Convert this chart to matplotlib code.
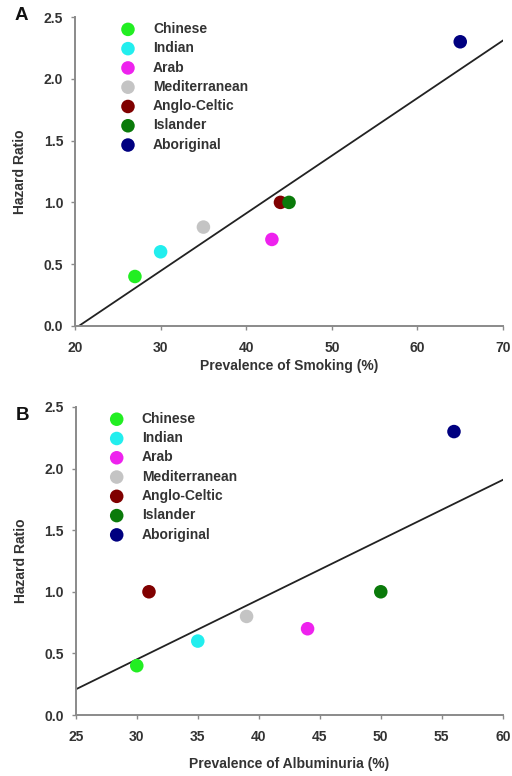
import matplotlib
matplotlib.use("Agg")
import matplotlib.pyplot as plt
import numpy as np

plt.rcParams['font.family'] = ['Liberation Sans', 'DejaVu Sans']
plt.rcParams['font.weight'] = 'bold'

groups = ["Chinese", "Indian", "Arab", "Mediterranean", "Anglo-Celtic", "Islander", "Aboriginal"]
colors = ["#22ee22", "#22eeee", "#ee22ee", "#c4c4c4", "#800000", "#0a7a0a", "#000080"]
hazard_ratio = [0.4, 0.6, 0.7, 0.8, 1.0, 1.0, 2.3]
smoking = [27, 30, 43, 35, 44, 45, 65]
albuminuria = [30, 35, 44, 39, 31, 50, 56]

smoking_ticks = [20, 30, 40, 50, 60, 70]
albuminuria_ticks = [25, 30, 35, 40, 45, 50, 55, 60]
hr_ticks = [0.0, 0.5, 1.0, 1.5, 2.0, 2.5]

fig = plt.figure(figsize=(5.12, 7.76), dpi=100)
axA = fig.add_axes([0.1465, 0.580, 0.836, 0.398])
axB = fig.add_axes([0.148, 0.0786, 0.834, 0.397])

spine_col = "#8a8a8a"
text_col = "#333333"
fs = 10


def panel(ax, xs, xticks, xlabel, xlabelpad, letter, letter_pos, leg_anchor):
    for x, y, c, g in zip(xs, hazard_ratio, colors, groups):
        ax.scatter([x], [y], s=95, color=c, edgecolors='none', zorder=3, label=g)
    # least-squares trend line through the seven groups
    slope, icpt = np.polyfit(xs, hazard_ratio, 1)
    lx = np.array([xticks[0], xticks[-1]], dtype=float)
    ax.plot(lx, slope * lx + icpt, color="#222222", lw=1.3, zorder=2)
    ax.set_xlim(xticks[0], xticks[-1])
    ax.set_ylim(0, 2.5)
    ax.set_xticks(xticks)
    ax.set_yticks(hr_ticks)
    ax.set_yticklabels([f"{t:.1f}" for t in hr_ticks])
    for s in ["top", "right"]:
        ax.spines[s].set_visible(False)
    for s in ["left", "bottom"]:
        ax.spines[s].set_color(spine_col)
        ax.spines[s].set_linewidth(1.4)
    ax.tick_params(direction='out', length=3, width=1, color=spine_col,
                   labelsize=fs, labelcolor=text_col)
    ax.tick_params(axis='x', pad=7.5)
    ax.tick_params(axis='y', pad=5.5)
    ax.set_xlabel(xlabel, fontsize=fs, fontweight='bold', color=text_col, labelpad=xlabelpad)
    ax.set_ylabel("Hazard Ratio", fontsize=fs, fontweight='bold', color=text_col, labelpad=12)
    fig.text(letter_pos[0], letter_pos[1], letter, fontsize=13.5, fontweight='bold',
             color="#111111", ha='left', va='center')
    leg = ax.legend(loc='upper left', bbox_to_anchor=leg_anchor, frameon=False,
                    fontsize=fs, handletextpad=1.3, labelspacing=0.38,
                    handlelength=1.0, borderpad=0, borderaxespad=0)
    for t in leg.get_texts():
        t.set_color(text_col)


panel(axA, smoking, smoking_ticks, "Prevalence of Smoking (%)", 3.5, "A",
      (15 / 512, 1 - 16 / 776), (0.1075, 0.984))
panel(axB, albuminuria, albuminuria_ticks, "Prevalence of Albuminuria (%)", 9.5, "B",
      (16 / 512, 1 - 415 / 776), (0.0796, 0.984))

fig.savefig("out.png", dpi=100)
